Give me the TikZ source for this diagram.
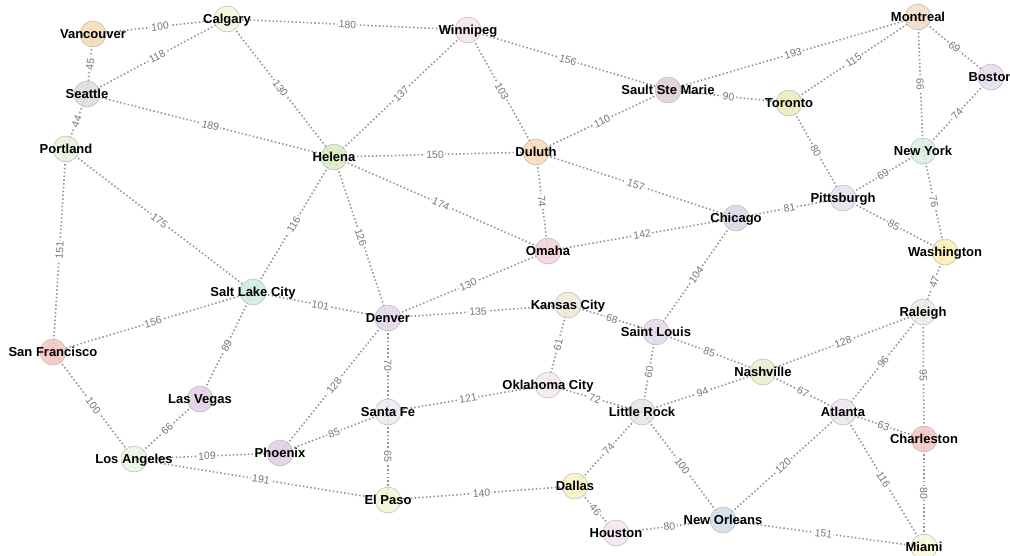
\documentclass[tikz,border=0pt]{standalone}
\usepackage{fontspec}
\setmainfont{Liberation Sans}
\usetikzlibrary{backgrounds}

\definecolor{roadgray}{HTML}{959595}
\definecolor{wtgray}{HTML}{777777}
\definecolor{cVan}{HTML}{F2DAB2}\definecolor{cCal}{HTML}{F6F4DA}\definecolor{cSea}{HTML}{DCDCDC}
\definecolor{cPor}{HTML}{E6F2DC}\definecolor{cHel}{HTML}{D8EBC0}\definecolor{cWin}{HTML}{F5E4EA}
\definecolor{cDul}{HTML}{F8D8B4}\definecolor{cSsm}{HTML}{E2CDD2}\definecolor{cTor}{HTML}{ECEABA}
\definecolor{cMon}{HTML}{F0DCC6}\definecolor{cBos}{HTML}{E6DCEB}\definecolor{cNyc}{HTML}{D8EFE2}
\definecolor{cPit}{HTML}{E4E2EE}\definecolor{cChi}{HTML}{D6D8E6}\definecolor{cWas}{HTML}{FBEFB0}
\definecolor{cOma}{HTML}{F2D2D6}\definecolor{cSlc}{HTML}{CCEBE2}\definecolor{cSfo}{HTML}{F2C4C0}
\definecolor{cDen}{HTML}{E2D6EA}\definecolor{cKan}{HTML}{EEEAD8}\definecolor{cStl}{HTML}{E2D8E6}
\definecolor{cRal}{HTML}{ECECE6}\definecolor{cNas}{HTML}{E6EFCC}\definecolor{cLvg}{HTML}{E2CCE6}
\definecolor{cLax}{HTML}{E9F5DF}\definecolor{cPhx}{HTML}{E0CCE4}\definecolor{cSaf}{HTML}{ECE9F0}
\definecolor{cOkc}{HTML}{F5E8EF}\definecolor{cLit}{HTML}{E4E6E2}\definecolor{cAtl}{HTML}{ECE6EE}
\definecolor{cCha}{HTML}{F5C2BE}\definecolor{cElp}{HTML}{F2F5D6}\definecolor{cDal}{HTML}{F8F2BE}
\definecolor{cHou}{HTML}{F7E4EE}\definecolor{cNor}{HTML}{CEDDE9}\definecolor{cMia}{HTML}{F8F8DA}

\begin{document}
\begin{tikzpicture}[x=1pt,y=-1pt,
  city/.style={circle,draw=black!28,line width=0.5pt,minimum size=26pt,inner sep=0pt,fill opacity=0.85,
    label={[cityname]center:#1}},
  cityname/.style={font=\fontsize{13}{13}\selectfont\bfseries,text height=9.4pt,text depth=0pt,inner sep=0pt,text opacity=1,fill opacity=1},
  road/.style={roadgray,line width=1.6pt,dash pattern=on 1.5pt off 2.3pt},
  wt/.style={midway,sloped,fill=white,inner sep=1.4pt,text=wtgray,font=\fontsize{10.5}{10.5}\selectfont,text height=7.6pt,text depth=0pt}]
\useasboundingbox (0,0) rectangle (1010,555);

% cities
\node[city=Vancouver,fill=cVan] (van) at (93,34) {};
\node[city=Calgary,fill=cCal] (cal) at (227,19) {};
\node[city=Seattle,fill=cSea] (sea) at (87,94) {};
\node[city=Portland,fill=cPor] (por) at (66,149) {};
\node[city=Helena,fill=cHel] (hel) at (334,157) {};
\node[city=Winnipeg,fill=cWin] (win) at (468,30) {};
\node[city=Duluth,fill=cDul] (dul) at (536,152) {};
\node[city=Sault Ste Marie,fill=cSsm] (ssm) at (668,90) {};
\node[city=Toronto,fill=cTor] (tor) at (789,103) {};
\node[city=Montreal,fill=cMon] (mon) at (918,17) {};
\node[city=Boston,fill=cBos] (bos) at (991,77) {};
\node[city=New York,fill=cNyc] (nyc) at (923,151) {};
\node[city=Pittsburgh,fill=cPit] (pit) at (843,198) {};
\node[city=Chicago,fill=cChi] (chi) at (736,218) {};
\node[city=Washington,fill=cWas] (was) at (945,252) {};
\node[city=Omaha,fill=cOma] (oma) at (548,251) {};
\node[city=Salt Lake City,fill=cSlc] (slc) at (253,292) {};
\node[city=San Francisco,fill=cSfo] (sfo) at (53,352) {};
\node[city=Denver,fill=cDen] (den) at (388,318) {};
\node[city=Kansas City,fill=cKan] (kan) at (568,305) {};
\node[city=Saint Louis,fill=cStl] (stl) at (656,332) {};
\node[city=Raleigh,fill=cRal] (ral) at (923,312) {};
\node[city=Nashville,fill=cNas] (nas) at (763,372) {};
\node[city=Las Vegas,fill=cLvg] (lvg) at (200,399) {};
\node[city=Los Angeles,fill=cLax] (lax) at (134,459) {};
\node[city=Phoenix,fill=cPhx] (phx) at (280,453) {};
\node[city=Santa Fe,fill=cSaf] (saf) at (388,412) {};
\node[city=Oklahoma City,fill=cOkc] (okc) at (548,385) {};
\node[city=Little Rock,fill=cLit] (lit) at (642,412) {};
\node[city=Atlanta,fill=cAtl] (atl) at (843,412) {};
\node[city=Charleston,fill=cCha] (cha) at (924,439) {};
\node[city=El Paso,fill=cElp] (elp) at (388,500) {};
\node[city=Dallas,fill=cDal] (dal) at (575,486) {};
\node[city=Houston,fill=cHou] (hou) at (616,533) {};
\node[city=New Orleans,fill=cNor] (nor) at (723,520) {};
\node[city=Miami,fill=cMia] (mia) at (924,547) {};

% routes
\begin{scope}[on background layer]
\draw[road] (van.center) -- node[wt]{100} (cal.center);
\draw[road] (van.center) -- node[wt]{45} (sea.center);
\draw[road] (sea.center) -- node[wt]{118} (cal.center);
\draw[road] (sea.center) -- node[wt]{44} (por.center);
\draw[road] (sea.center) -- node[wt]{189} (hel.center);
\draw[road] (cal.center) -- node[wt]{130} (hel.center);
\draw[road] (cal.center) -- node[wt]{180} (win.center);
\draw[road] (win.center) -- node[wt]{137} (hel.center);
\draw[road] (win.center) -- node[wt]{103} (dul.center);
\draw[road] (win.center) -- node[wt]{156} (ssm.center);
\draw[road] (hel.center) -- node[wt]{150} (dul.center);
\draw[road] (dul.center) -- node[wt]{110} (ssm.center);
\draw[road] (dul.center) -- node[wt]{157} (chi.center);
\draw[road] (dul.center) -- node[wt]{74} (oma.center);
\draw[road] (hel.center) -- node[wt]{174} (oma.center);
\draw[road] (hel.center) -- node[wt]{126} (den.center);
\draw[road] (hel.center) -- node[wt]{116} (slc.center);
\draw[road] (ssm.center) -- node[wt]{193} (mon.center);
\draw[road] (ssm.center) -- node[wt]{90} (tor.center);
\draw[road] (tor.center) -- node[wt]{115} (mon.center);
\draw[road] (tor.center) -- node[wt]{80} (pit.center);
\draw[road] (mon.center) -- node[wt]{69} (bos.center);
\draw[road] (mon.center) -- node[wt]{66} (nyc.center);
\draw[road] (bos.center) -- node[wt]{74} (nyc.center);
\draw[road] (nyc.center) -- node[wt]{69} (pit.center);
\draw[road] (nyc.center) -- node[wt]{76} (was.center);
\draw[road] (pit.center) -- node[wt]{81} (chi.center);
\draw[road] (pit.center) -- node[wt]{85} (was.center);
\draw[road] (chi.center) -- node[wt]{142} (oma.center);
\draw[road] (chi.center) -- node[wt]{104} (stl.center);
\draw[road] (was.center) -- node[wt]{47} (ral.center);
\draw[road] (ral.center) -- node[wt]{128} (nas.center);
\draw[road] (ral.center) -- node[wt]{96} (atl.center);
\draw[road] (ral.center) -- node[wt]{95} (cha.center);
\draw[road] (por.center) -- node[wt]{151} (sfo.center);
\draw[road] (por.center) -- node[wt]{175} (slc.center);
\draw[road] (slc.center) -- node[wt]{156} (sfo.center);
\draw[road] (slc.center) -- node[wt]{101} (den.center);
\draw[road] (slc.center) -- node[wt]{89} (lvg.center);
\draw[road] (sfo.center) -- node[wt]{100} (lax.center);
\draw[road] (lvg.center) -- node[wt]{66} (lax.center);
\draw[road] (lax.center) -- node[wt]{109} (phx.center);
\draw[road] (lax.center) -- node[wt]{191} (elp.center);
\draw[road] (phx.center) -- node[wt]{128} (den.center);
\draw[road] (phx.center) -- node[wt]{85} (saf.center);
\draw[road] (den.center) -- node[wt]{130} (oma.center);
\draw[road] (den.center) -- node[wt]{135} (kan.center);
\draw[road] (den.center) -- node[wt]{70} (saf.center);
\draw[road] (kan.center) -- node[wt]{68} (stl.center);
\draw[road] (kan.center) -- node[wt]{61} (okc.center);
\draw[road] (stl.center) -- node[wt]{60} (lit.center);
\draw[road] (stl.center) -- node[wt]{85} (nas.center);
\draw[road] (saf.center) -- node[wt]{121} (okc.center);
\draw[road] (saf.center) -- node[wt]{65} (elp.center);
\draw[road] (okc.center) -- node[wt]{72} (lit.center);
\draw[road] (lit.center) -- node[wt]{94} (nas.center);
\draw[road] (lit.center) -- node[wt]{74} (dal.center);
\draw[road] (lit.center) -- node[wt]{100} (nor.center);
\draw[road] (nas.center) -- node[wt]{67} (atl.center);
\draw[road] (atl.center) -- node[wt]{63} (cha.center);
\draw[road] (atl.center) -- node[wt]{120} (nor.center);
\draw[road] (atl.center) -- node[wt]{116} (mia.center);
\draw[road] (cha.center) -- node[wt]{80} (mia.center);
\draw[road] (elp.center) -- node[wt]{140} (dal.center);
\draw[road] (dal.center) -- node[wt]{46} (hou.center);
\draw[road] (hou.center) -- node[wt]{80} (nor.center);
\draw[road] (nor.center) -- node[wt]{151} (mia.center);
\end{scope}
\end{tikzpicture}
\end{document}
